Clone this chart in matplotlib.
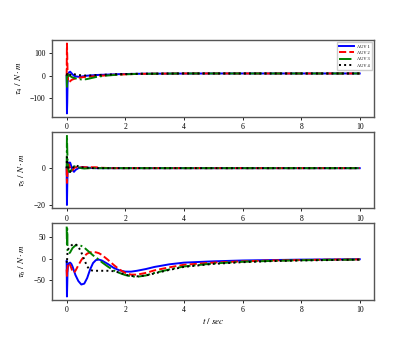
import matplotlib
matplotlib.use("Agg")
import matplotlib.pyplot as plt

# ---------------------------------------------------------------------
# data (time grid shared by all curves)
# ---------------------------------------------------------------------
t = [0, 0.01, 0.02, 0.03, 0.05, 0.08, 0.12, 0.16, 0.2, 0.25, 0.3, 0.4, 0.5,
     0.6, 0.7, 0.8, 0.9, 1.0, 1.1, 1.2, 1.4, 1.6, 1.8, 2.0, 2.2, 2.4, 2.7,
     3.0, 3.5, 4.0, 5.0, 6.0, 7.0, 8.0, 9.0, 10.0]

labels = ["AUV 1", "AUV 2", "AUV 3", "AUV 4"]

# tau_4
tau4_auv1 = [0, -170, -120, -40, 5, 15, 18, 12, 6, 0, -3, -5, -4, -2, 0, 1,
             2, 3, 3.5, 4, 5, 6, 7, 7.5, 8, 8.5, 9, 9, 9.5, 9.5, 10, 10, 10,
             10, 10, 10]
tau4_auv2 = [0, 145, 90, 20, -25, -30, -25, -20, -17, -15, -12, -10, -8, -6,
             -5, -4, -3, -2, -1, 0, 2, 4, 5, 6, 7, 8, 8.5, 9, 9.5, 10, 10, 10,
             10, 10, 10, 10]
tau4_auv3 = [0, -50, -30, -5, 5, 3, -2, -5, -8, -10, -12, -15, -17, -17, -15,
             -12, -9, -6, -4, -2, 1, 3, 5, 6, 7, 8, 8.5, 9, 9.5, 10, 10, 10,
             10, 10, 10, 10]
tau4_auv4 = [0, 5, 8, 5, 2, 0, 3, 8, 10, 8, 5, 3, 2, 1, 1, 1, 2, 3, 3, 4, 5,
             6, 7, 7.5, 8, 8.5, 9, 9, 9.5, 10, 10, 10, 10, 10, 10, 10]

# tau_5
tau5_auv1 = [0, -20, -10, -3, 0, 3, 3, 1, -1, -2, -1, 0, 0.5, 0.5, 0.3, 0.2,
             0.1, 0, 0, 0, 0, 0, 0, 0, 0, 0, 0, 0, 0, 0, 0, 0, 0, 0, 0, 0]
tau5_auv2 = [0, -8, -5, -1, 2, 2, 0, -1.5, -1, 0, 0.5, 0.5, 0.5, 0.5, 0.5,
             0.5, 0.5, 0.5, 0.3, 0.2, 0.1, 0, 0, 0, 0, 0, 0, 0, 0, 0, 0, 0, 0,
             0, 0, 0]
tau5_auv3 = [0, 18, 10, 5, 0, -2, -2, -1, 0, 1, 1, 0.5, 0, -0.2, -0.1, 0, 0,
             0, 0, 0, 0, 0, 0, 0, 0, 0, 0, 0, 0, 0, 0, 0, 0, 0, 0, 0]
tau5_auv4 = [0, 6, 4, 3, 1, -1, -2, -1, 0, 1, 1.5, 1, 0.5, 0.3, 0.2, 0.1, 0,
             0, 0, 0, 0, 0, 0, 0, 0, 0, 0, 0, 0, 0, 0, 0, 0, 0, 0, 0]

# tau_6
tau6_auv1 = [-5, -88, -60, -30, -15, -10, -9, -12, -18, -28, -38, -52, -60,
             -58, -45, -25, -10, -3, -2, -4, -12, -21, -27, -30, -30, -28,
             -24, -19, -13, -9, -6, -4, -3, -2, -1.5, -1]
tau6_auv2 = [-25, -40, -30, -20, -12, -10, -15, -22, -30, -32, -28, -15, -3,
             6, 12, 15, 16, 15, 13, 9, -2, -14, -25, -33, -37, -37, -33, -27,
             -20, -14, -9, -6, -4, -3, -2, -1.5]
tau6_auv3 = [75, 30, 70, 20, 15, 12, 15, 20, 25, 28, 31, 32, 30, 26, 20, 14,
             8, 3, -2, -8, -18, -27, -33, -38, -41, -42, -39, -33, -25, -18,
             -11, -7, -5, -3.5, -2.5, -2]
tau6_auv4 = [-5, -10, 5, 15, 22, 25, 28, 31, 33, 35, 34, 28, 15, -2, -18, -26,
             -28, -28, -28, -28, -28, -29, -32, -37, -40, -41, -39, -34, -26,
             -19, -12, -8, -5.5, -4, -3, -2]

yticks_4 = [-100, 0, 100]
yticks_5 = [-20, 0]
yticks_6 = [-50, 0, 50]

panels = [
    ([tau4_auv1, tau4_auv2, tau4_auv3, tau4_auv4], r"$\tau_4\ /\ N\cdot m$", yticks_4),
    ([tau5_auv1, tau5_auv2, tau5_auv3, tau5_auv4], r"$\tau_5\ /\ N\cdot m$", yticks_5),
    ([tau6_auv1, tau6_auv2, tau6_auv3, tau6_auv4], r"$\tau_6\ /\ N\cdot m$", yticks_6),
]

# ---------------------------------------------------------------------
# style
# ---------------------------------------------------------------------
plt.rcParams["font.family"] = ["Liberation Serif", "DejaVu Serif"]
plt.rcParams["mathtext.fontset"] = "stix"

colors = ["blue", "red", "green", "black"]
styles = ["-", "--", "-.", ":"]

fig, axes = plt.subplots(3, 1, figsize=(4.16, 3.39), dpi=100)
fig.subplots_adjust(left=0.125, right=0.9, top=0.882, bottom=0.115,
                    hspace=0.19)

for ax, (series, ylab, yt) in zip(axes, panels):
    for y, c, ls, lab in zip(series, colors, styles, labels):
        ax.plot(t, y, color=c, linestyle=ls, linewidth=1.4, label=lab)
    ax.set_ylabel(ylab, fontsize=6.5)
    ax.set_xticks([0, 2, 4, 6, 8, 10])
    ax.set_yticks(yt)
    ax.tick_params(labelsize=5.5, length=2.5, width=0.6, pad=2)
    for sp in ax.spines.values():
        sp.set_color("#555555")
        sp.set_linewidth(1.0)

axes[0].legend(loc="upper right", fontsize=3.2, handlelength=3.2,
               borderpad=0.5, labelspacing=0.5, framealpha=1,
               edgecolor="#cccccc", fancybox=False)
axes[2].set_xlabel(r"$t\ /\ sec$", fontsize=6.5, labelpad=1)

fig.savefig("out.png", dpi=100)
